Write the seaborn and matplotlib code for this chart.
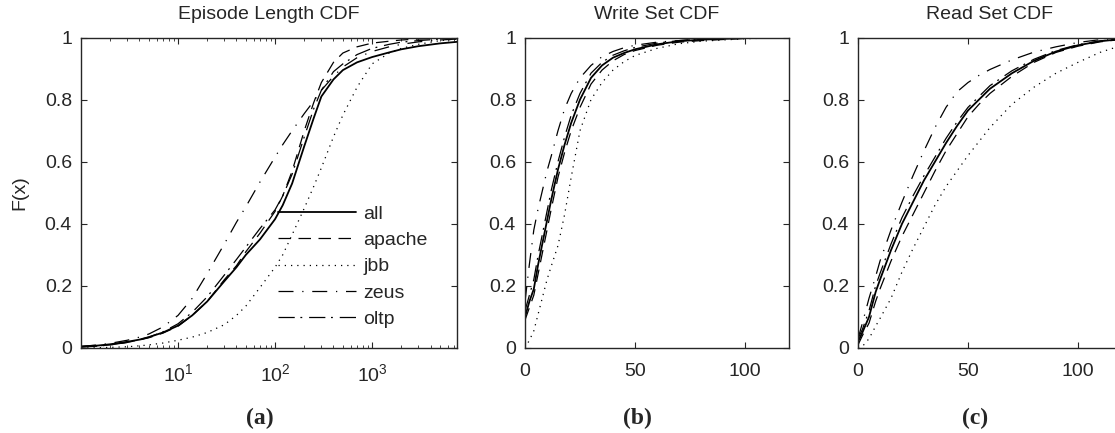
import matplotlib
matplotlib.use("Agg")
import matplotlib.pyplot as plt
import seaborn as sns
import pandas as pd

# Episode length CDF (log x)
EP_X = [1, 1.5, 2, 3, 4, 5, 7, 10, 14, 20, 30, 40, 50, 70, 100, 120, 150, 200, 250, 300,
        400, 500, 700, 1000, 1500, 2000, 3000, 5000, 7500]
EP_ALL = [0.005, 0.008, 0.012, 0.02, 0.027, 0.035, 0.05, 0.072, 0.105, 0.15, 0.215, 0.26, 0.30, 0.35, 0.415,
          0.46, 0.53, 0.65, 0.74, 0.81, 0.865, 0.895, 0.92, 0.937, 0.952, 0.962, 0.972, 0.981, 0.986]
EP_APACHE = [0.004, 0.007, 0.01, 0.018, 0.026, 0.033, 0.048, 0.07, 0.105, 0.15, 0.22, 0.265, 0.31, 0.37, 0.44,
             0.49, 0.57, 0.70, 0.79, 0.855, 0.92, 0.95, 0.97, 0.982, 0.988, 0.992, 0.995, 0.998, 1.0]
EP_JBB = [0.0, 0.001, 0.002, 0.004, 0.007, 0.01, 0.016, 0.025, 0.035, 0.05, 0.075, 0.105, 0.135, 0.195, 0.26,
          0.30, 0.365, 0.45, 0.52, 0.58, 0.68, 0.75, 0.84, 0.915, 0.95, 0.965, 0.978, 0.99, 0.995]
EP_ZEUS = [0.005, 0.01, 0.015, 0.025, 0.035, 0.045, 0.068, 0.105, 0.16, 0.24, 0.335, 0.405, 0.455, 0.535, 0.615,
           0.655, 0.70, 0.755, 0.795, 0.83, 0.875, 0.905, 0.935, 0.955, 0.97, 0.978, 0.986, 0.992, 0.995]
EP_OLTP = [0.003, 0.006, 0.01, 0.018, 0.027, 0.035, 0.052, 0.078, 0.115, 0.165, 0.235, 0.285, 0.325, 0.385, 0.445,
           0.49, 0.56, 0.68, 0.77, 0.83, 0.89, 0.915, 0.945, 0.965, 0.978, 0.985, 0.99, 0.995, 0.998]

# Write set CDF
WS_X = [0, 2, 4, 6, 8, 10, 12, 15, 18, 21, 25, 30, 35, 40, 45, 50, 60, 70, 80, 100, 120]
WS_ALL = [0.10, 0.15, 0.19, 0.27, 0.34, 0.41, 0.48, 0.575, 0.655, 0.725, 0.80, 0.87, 0.91, 0.935, 0.95, 0.962,
          0.978, 0.988, 0.993, 0.998, 1.0]
WS_APACHE = [0.09, 0.13, 0.17, 0.24, 0.31, 0.38, 0.45, 0.55, 0.63, 0.70, 0.775, 0.85, 0.895, 0.925, 0.945, 0.958,
             0.975, 0.985, 0.99, 0.997, 1.0]
WS_JBB = [0.0, 0.025, 0.055, 0.11, 0.165, 0.22, 0.265, 0.33, 0.43, 0.55, 0.70, 0.80, 0.855, 0.895, 0.922, 0.942,
          0.965, 0.98, 0.988, 0.996, 1.0]
WS_ZEUS = [0.15, 0.27, 0.38, 0.45, 0.51, 0.57, 0.62, 0.70, 0.77, 0.82, 0.87, 0.91, 0.938, 0.955, 0.967, 0.975,
           0.985, 0.99, 0.995, 0.999, 1.0]
WS_OLTP = [0.12, 0.17, 0.22, 0.30, 0.37, 0.44, 0.51, 0.60, 0.68, 0.75, 0.82, 0.885, 0.92, 0.943, 0.957, 0.968,
           0.982, 0.99, 0.995, 0.999, 1.0]

# Read set CDF
RS_X = [0, 2, 5, 8, 10, 15, 20, 25, 30, 35, 40, 45, 50, 55, 60, 70, 80, 90, 100, 110, 120]
RS_ALL = [0.02, 0.05, 0.10, 0.18, 0.22, 0.315, 0.40, 0.47, 0.54, 0.60, 0.66, 0.715, 0.765, 0.80, 0.835, 0.885,
          0.925, 0.955, 0.975, 0.988, 0.995]
RS_APACHE = [0.01, 0.04, 0.08, 0.15, 0.19, 0.28, 0.36, 0.43, 0.50, 0.57, 0.635, 0.69, 0.745, 0.785, 0.82, 0.875,
             0.92, 0.952, 0.972, 0.986, 0.994]
RS_JBB = [0.0, 0.005, 0.03, 0.07, 0.095, 0.16, 0.245, 0.32, 0.39, 0.46, 0.52, 0.57, 0.62, 0.665, 0.71, 0.785,
          0.84, 0.885, 0.92, 0.952, 0.975]
RS_ZEUS = [0.03, 0.08, 0.16, 0.23, 0.28, 0.38, 0.47, 0.555, 0.635, 0.71, 0.775, 0.825, 0.855, 0.878, 0.897, 0.928,
           0.953, 0.97, 0.984, 0.993, 0.998]
RS_OLTP = [0.03, 0.06, 0.12, 0.20, 0.24, 0.335, 0.42, 0.49, 0.555, 0.615, 0.675, 0.728, 0.775, 0.81, 0.845, 0.893,
           0.93, 0.958, 0.977, 0.989, 0.996]

SERIES = ['all', 'apache', 'jbb', 'zeus', 'oltp']
TITLES = ['Episode Length CDF', 'Write Set CDF', 'Read Set CDF']
PANEL_TAGS = ['(a)', '(b)', '(c)']

# line styles (matlab-ish)
STYLES = {
    'all': dict(linestyle='-', lw=1.3),
    'apache': dict(linestyle=(0, (10, 6)), lw=0.9),
    'jbb': dict(linestyle=(0, (1, 4)), lw=0.9),
    'zeus': dict(linestyle=(0, (12, 7, 1, 7)), lw=0.9),
    'oltp': dict(linestyle=(0, (13, 4.5, 1.5, 5.5)), lw=0.9),
}

sns.set_style('ticks')
plt.rcParams['font.family'] = ['Liberation Sans', 'DejaVu Sans']
plt.rcParams['mathtext.fontset'] = 'custom'
plt.rcParams['mathtext.rm'] = 'Liberation Sans'
plt.rcParams['font.size'] = 14

W, H = 1115, 433
fig = plt.figure(figsize=(W / 100, H / 100), dpi=100)

bottom = 1 - 348 / H
height = (348 - 37.5) / H
ax_a = fig.add_axes([81 / W, bottom, 376 / W, height])
ax_b = fig.add_axes([525 / W, bottom, 264 / W, height])
ax_c = fig.add_axes([858 / W, bottom, 264 / W, height])  # runs off the right edge, like the original

panels = [
    (ax_a, EP_X, [EP_ALL, EP_APACHE, EP_JBB, EP_ZEUS, EP_OLTP]),
    (ax_b, WS_X, [WS_ALL, WS_APACHE, WS_JBB, WS_ZEUS, WS_OLTP]),
    (ax_c, RS_X, [RS_ALL, RS_APACHE, RS_JBB, RS_ZEUS, RS_OLTP]),
]

for k, (ax, xs, ys) in enumerate(panels):
    for name, y in zip(SERIES, ys):
        df = pd.DataFrame({'x': xs, 'F': y})
        sns.lineplot(data=df, x='x', y='F', ax=ax, color='black',
                     label=name, legend=False, **STYLES[name])
    ax.set_ylim(0, 1)
    ax.set_yticks([0, 0.2, 0.4, 0.6, 0.8, 1])
    ax.set_yticklabels(['0', '0.2', '0.4', '0.6', '0.8', '1'])
    ax.set_xlabel('')
    ax.set_ylabel('')
    ax.set_title(TITLES[k], fontsize=14, pad=13)
    ax.tick_params(direction='in', top=True, right=True, length=4, width=0.8, labelsize=14)
    ax.tick_params(axis='y', pad=6.5)
    ax.tick_params(axis='x', pad=11)
    ax.tick_params(which='minor', direction='in', top=True, right=True, length=2, width=0.6)
    for sp in ax.spines.values():
        sp.set_visible(True)
        sp.set_linewidth(1.0)

ax_a.set_xscale('log')
ax_a.set_xlim(1, 7500)
ax_a.set_xticks([10, 100, 1000])
ax_a.set_xticklabels([r'$10^{1}$', r'$10^{2}$', r'$10^{3}$'])
ax_a.set_ylabel('F(x)', fontsize=14, labelpad=12)

for ax in (ax_b, ax_c):
    ax.set_xlim(0, 120)
    ax.set_xticks([0, 50, 100])

leg = ax_a.legend(loc='center left', bbox_to_anchor=(0.524, 0.262), frameon=False,
                  handlelength=4.0, handletextpad=0.4, labelspacing=0.45,
                  borderpad=0, borderaxespad=0, fontsize=14)

tag_x = [260, 637, 975]
for t, xp in zip(PANEL_TAGS, tag_x):
    fig.text(xp / W, 1 - 418 / H, t, ha='center', va='center',
             family='Liberation Serif', weight='bold', fontsize=17)

fig.savefig('out.png', dpi=100, facecolor='white')
